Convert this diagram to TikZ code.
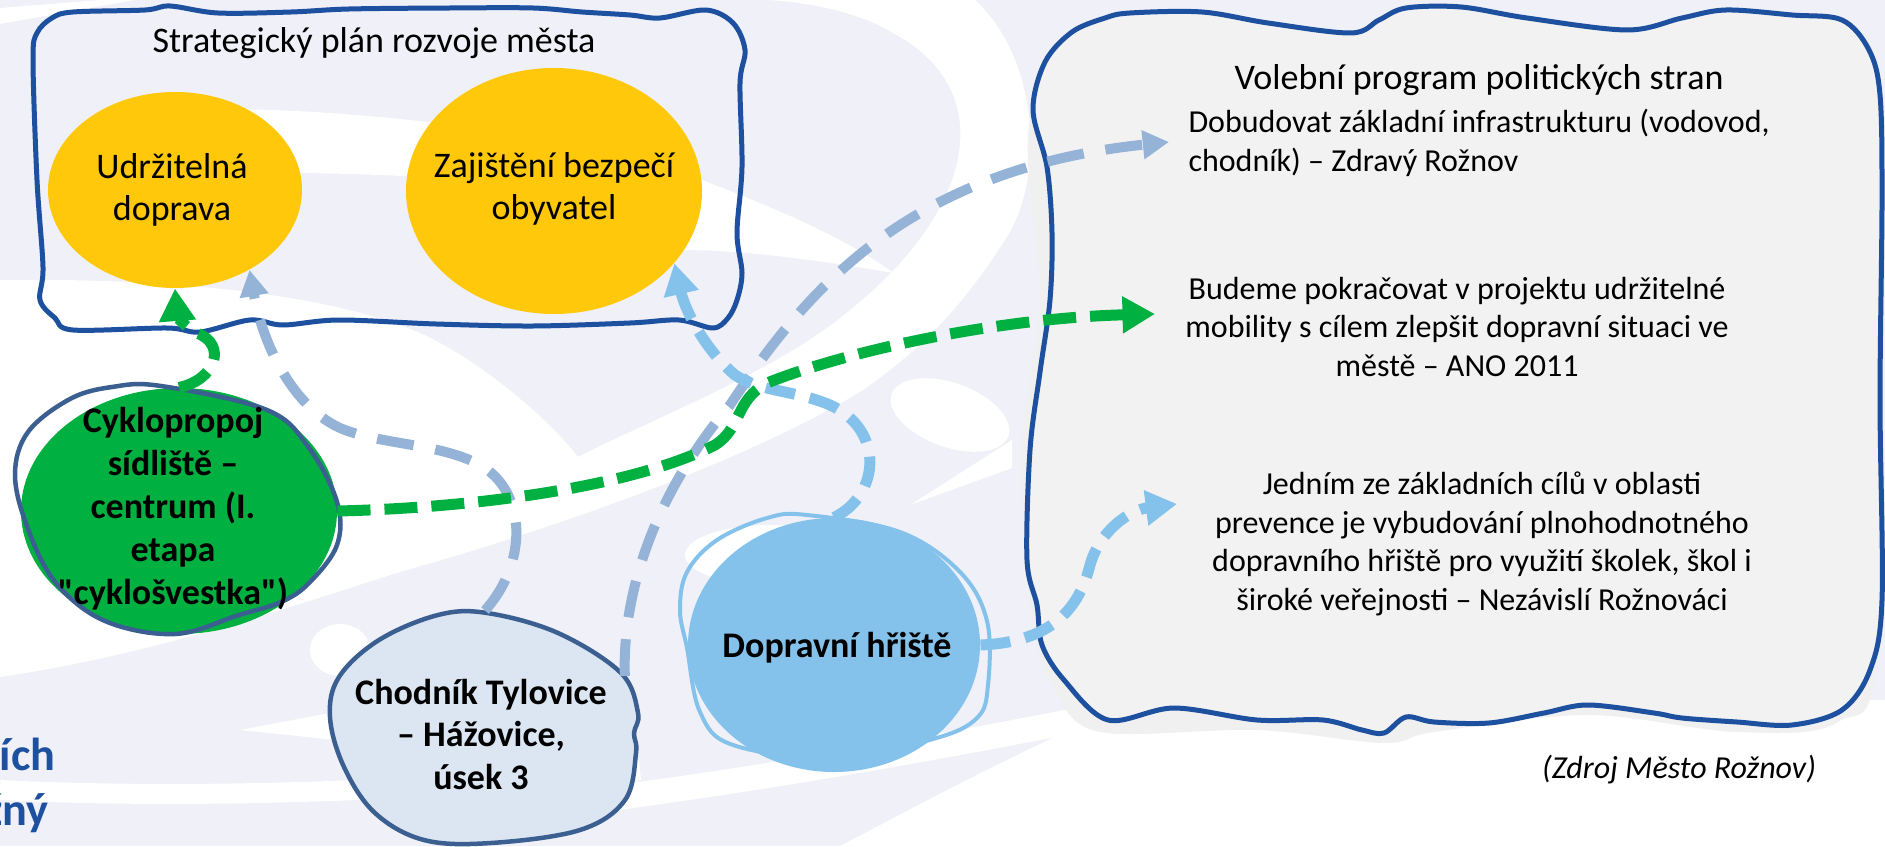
\documentclass[tikz,border=0pt]{standalone}
\usepackage{fontspec}
\setmainfont{Carlito}[Ligatures=TeXOff]
\usetikzlibrary{arrows.meta,shapes.geometric}
\definecolor{lav}{RGB}{239,240,248}
\definecolor{boxblue}{RGB}{30,80,160}
\definecolor{gold}{RGB}{255,200,10}
\definecolor{grn}{RGB}{0,176,64}
\definecolor{slate}{RGB}{60,95,145}
\definecolor{paleblue}{RGB}{220,230,242}
\definecolor{skyblue}{RGB}{133,194,235}
\definecolor{steel}{RGB}{149,179,215}
\definecolor{graybox}{RGB}{242,242,242}
\tikzset{
  lbl/.style={font=\fontsize{14.4pt}{16.8pt}\selectfont, align=center, inner sep=0pt},
  blbl/.style={font=\fontsize{14.4pt}{17.2pt}\selectfont\bfseries, align=center, inner sep=0pt},
  body/.style={font=\fontsize{12.8pt}{15.4pt}\selectfont, inner sep=0pt},
  shapenode/.style={ellipse, inner sep=0pt, draw=none},
  wavy/.style={draw=boxblue, line width=2pt, line join=round},
  grnarrow/.style={draw=grn, line width=4.4pt, dash pattern=on 13.2pt off 5.6pt, -{Triangle[length=13pt,width=14pt]}},
  steelarrow/.style={draw=steel, line width=4pt, dash pattern=on 14.8pt off 8.8pt, -{Triangle[length=10.5pt,width=11pt]}},
  skyarrow/.style={draw=skyblue, line width=4.4pt, dash pattern=on 12pt off 6pt, -{Triangle[length=12.5pt,width=13.5pt]}},
}
\begin{document}
\begin{tikzpicture}[x=0.4pt,y=-0.4pt]
\useasboundingbox (0,0) rectangle (1885,846);
\begin{scope}
\clip (0,0) rectangle (1885,846);
% ---------- background ----------
\fill[lav] (0,0) rectangle (1885,846);
\fill[white] (0,8) -- (100,0) -- (135,0) -- (0,24) -- cycle;
\fill[white] (200,110) .. controls (320,105) and (560,130) .. (683,173)
  .. controls (770,205) and (850,240) .. (893,273)
  .. controls (820,260) and (740,250) .. (683,250)
  .. controls (600,215) and (500,180) .. (420,177)
  .. controls (330,172) and (250,172) .. (200,175) -- cycle;
\fill[white] (0,280) .. controls (150,278) and (320,290) .. (420,333)
  .. controls (480,360) and (550,420) .. (578,457)
  .. controls (650,420) and (780,370) .. (850,310)
  .. controls (975,210) and (1000,90) .. (893,33)
  .. controls (860,12) and (800,0) .. (760,0) -- (975,0)
  .. controls (1040,60) and (1045,180) .. (1005,240)
  .. controls (960,310) and (920,350) .. (863,390)
  .. controls (750,460) and (550,530) .. (400,572)
  .. controls (280,610) and (150,655) .. (0,677) -- cycle;
\fill[white] (340,650) ellipse [x radius=30, y radius=26];
\fill[white, rotate around={-20:(950,415)}] (950,415) ellipse [x radius=62, y radius=32];
\fill[white] (1012,440) -- (910,505) -- (1012,468) -- cycle;
\fill[white] (770,555) ellipse [x radius=85, y radius=30];
\fill[white] (240,730) -- (335,712) -- (335,740) -- cycle;
\draw[white, line width=8pt] (0,790) .. controls (200,800) and (450,790) .. (640,770);
\draw[white, line width=10pt] (560,805) .. controls (800,775) and (1000,735) .. (1120,712);
\fill[white] (1110,712) .. controls (1000,760) and (900,815) .. (840,846) -- (1885,846) -- (1885,700) -- cycle;
\end{scope}
% ---------- right box ----------
\fill[black!6] plot[smooth cycle, tension=0.55] coordinates {
 (1100,30) (1202,22) (1351,43) (1461,17) (1627,40) (1726,20) (1842,30) (1878,100)
 (1878,640) (1838,722) (1737,732) (1588,715) (1434,732) (1384,743) (1257,730) (1100,732)
 (1055,690) (1032,620) (1022,450) (1040,300) (1030,120)};
\filldraw[wavy, fill=graybox] plot[smooth cycle, tension=0.55] coordinates {
 (1105,18) (1130,13) (1202,12) (1268,23) (1351,33) (1379,20) (1406,8) (1461,7)
 (1527,18) (1627,30) (1682,18) (1726,10) (1792,15) (1842,20) (1869,50) (1880,95)
 (1882,200) (1880,400) (1882,600) (1870,670) (1842,710) (1792,725) (1737,722)
 (1682,718) (1654,713) (1588,705) (1544,713) (1489,723) (1434,722) (1406,717)
 (1384,733) (1362,730) (1323,720) (1257,720) (1174,708) (1108,720) (1064,680)
 (1042,645) (1037,605) (1027,560) (1030,450) (1040,372) (1050,300) (1052,233)
 (1047,167) (1033,110) (1045,62) (1072,32)};
% ---------- strategic box ----------
\draw[wavy] plot[smooth cycle, tension=0.55] coordinates {
 (37,33) (52,18) (73,12) (145,10) (170,6) (218,13) (291,12) (349,9) (450,8)
 (533,8) (582,12) (630,15) (660,18) (706,10) (733,23) (745,50) (740,83)
 (742,167) (737,233) (742,273) (737,300) (728,318) (713,328) (679,320)
 (630,323) (533,326) (436,324) (339,320) (283,325) (250,320) (200,332)
 (167,328) (73,330) (55,318) (40,300) (43,267) (37,180) (33,60)};
% ---------- shapes ----------
\node[shapenode, fill=gold, minimum width=101.6pt, minimum height=78.4pt] (udrz) at (175,190) {};
\node[shapenode, fill=gold, minimum width=118.4pt, minimum height=98.4pt] (zaj) at (554,191) {};
\node[shapenode, fill=grn, minimum width=126.4pt, minimum height=98.4pt] (cyc) at (179,511) {};
\draw[slate, line width=1.8pt] plot[smooth cycle, tension=0.6] coordinates {
 (161,386) (267,410) (309,448) (337,502) (337,545) (309,583) (281,602) (239,615)
 (175,634) (105,621) (56,583) (28,529) (15,475) (28,432) (70,399) (112,387)};
\filldraw[fill=paleblue, draw=slate, line width=1.8pt] plot[smooth cycle, tension=0.6] coordinates {
 (487,613) (558,633) (621,673) (638,713) (634,733) (636,753) (625,800) (580,830)
 (491,843) (424,840) (375,813) (344,767) (330,717) (339,677) (379,640) (438,615)};
\node[shapenode, minimum width=124pt, minimum height=92.8pt] (chod) at (485,727) {};
\node[shapenode, fill=skyblue, minimum width=116.8pt, minimum height=101.6pt] (dop) at (834,645) {};
\draw[skyblue, line width=1.6pt] plot[smooth cycle, tension=0.6] coordinates {
 (807,515) (900,532) (960,572) (987,621) (988,685) (977,718) (933,739) (833,758)
 (733,745) (700,712) (687,648) (680,610) (687,572) (717,540) (767,518)};
% ---------- texts ----------
\node[lbl] (strat) at (374,43) {Strategický plán rozvoje města};
\node[lbl] (udrz-t) at (172,190) {Udržitelná\\doprava};
\node[lbl] (zaj-t) at (554,189) {Zajištění bezpečí\\obyvatel};
\node[blbl] (cyc-t) at (173,509) {Cyklopropoj\\sídliště –\\centrum (I.\\etapa\\"cyklošvestka")};
\node[blbl, font=\fontsize{14.4pt}{17pt}\selectfont\bfseries] (chod-t) at (481,734) {Chodník Tylovice\\– Hážovice,\\úsek 3};
\node[blbl] (dop-t) at (837,648) {Dopravní hřiště};
\node[lbl] (vol) at (1479,80) {Volební program politických stran};
\node[body, anchor=west, align=left] (dob) at (1188,143) {Dobudovat základní infrastrukturu (vodovod,\\chodník) – Zdravý Rožnov};
\node[body, align=center] (bud) at (1457,327) {Budeme pokračovat v projektu udržitelné\\mobility s cílem zlepšit dopravní situaci ve\\městě – ANO 2011};
\node[body, align=center] (jed) at (1482,544) {Jedním ze základních cílů v oblasti\\prevence je vybudování plnohodnotného\\dopravního hřiště pro využití školek, škol i\\široké veřejnosti – Nezávislí Rožnováci};
\node[body, font=\fontsize{12.8pt}{15.4pt}\selectfont\itshape] (src) at (1679,770) {(Zdroj Město Rožnov)};
\node[font=\fontsize{18.5pt}{22pt}\selectfont\bfseries, text=boxblue, anchor=base east, inner sep=0pt] (ich) at (56,770) {ích};
\node[font=\fontsize{18.5pt}{22pt}\selectfont\bfseries, text=boxblue, anchor=base east, inner sep=0pt] (zny) at (49,825) {žný};
% ---------- connector ends ----------
\coordinate (dob-in) at (1169,142);
\coordinate (bud-in) at (1155,314);
\coordinate (jed-in) at (1177,504);
% ---------- connectors ----------
\draw[steelarrow] (chod.north) .. controls (530,560) and (525,490) .. (480,465)
  .. controls (440,443) and (380,445) .. (340,428)
  .. controls (290,405) and (262,340) .. (udrz.-47);
\draw[steelarrow] (chod.20) .. controls (622,600) and (650,500) .. (730,405)
  .. controls (800,300) and (900,170) .. (dob-in);
\draw[skyarrow] (dop.north) .. controls (880,495) and (885,430) .. (830,405)
  .. controls (795,390) and (760,392) .. (735,375)
  .. controls (705,350) and (685,310) .. (zaj.-31);
\draw[skyarrow] (dop.east) .. controls (1055,642) and (1080,605) .. (1090,565)
  .. controls (1100,530) and (1130,510) .. (jed-in);
\draw[grnarrow] (cyc.east) .. controls (470,508) and (630,488) .. (715,445)
  .. controls (742,428) and (735,400) .. (767,383)
  .. controls (850,350) and (1000,318) .. (bud-in);
\draw[grnarrow] (cyc.north) .. controls (215,380) and (228,345) .. (197,333)
  .. controls (185,328) and (177,315) .. (udrz.south);
\end{tikzpicture}
\end{document}
